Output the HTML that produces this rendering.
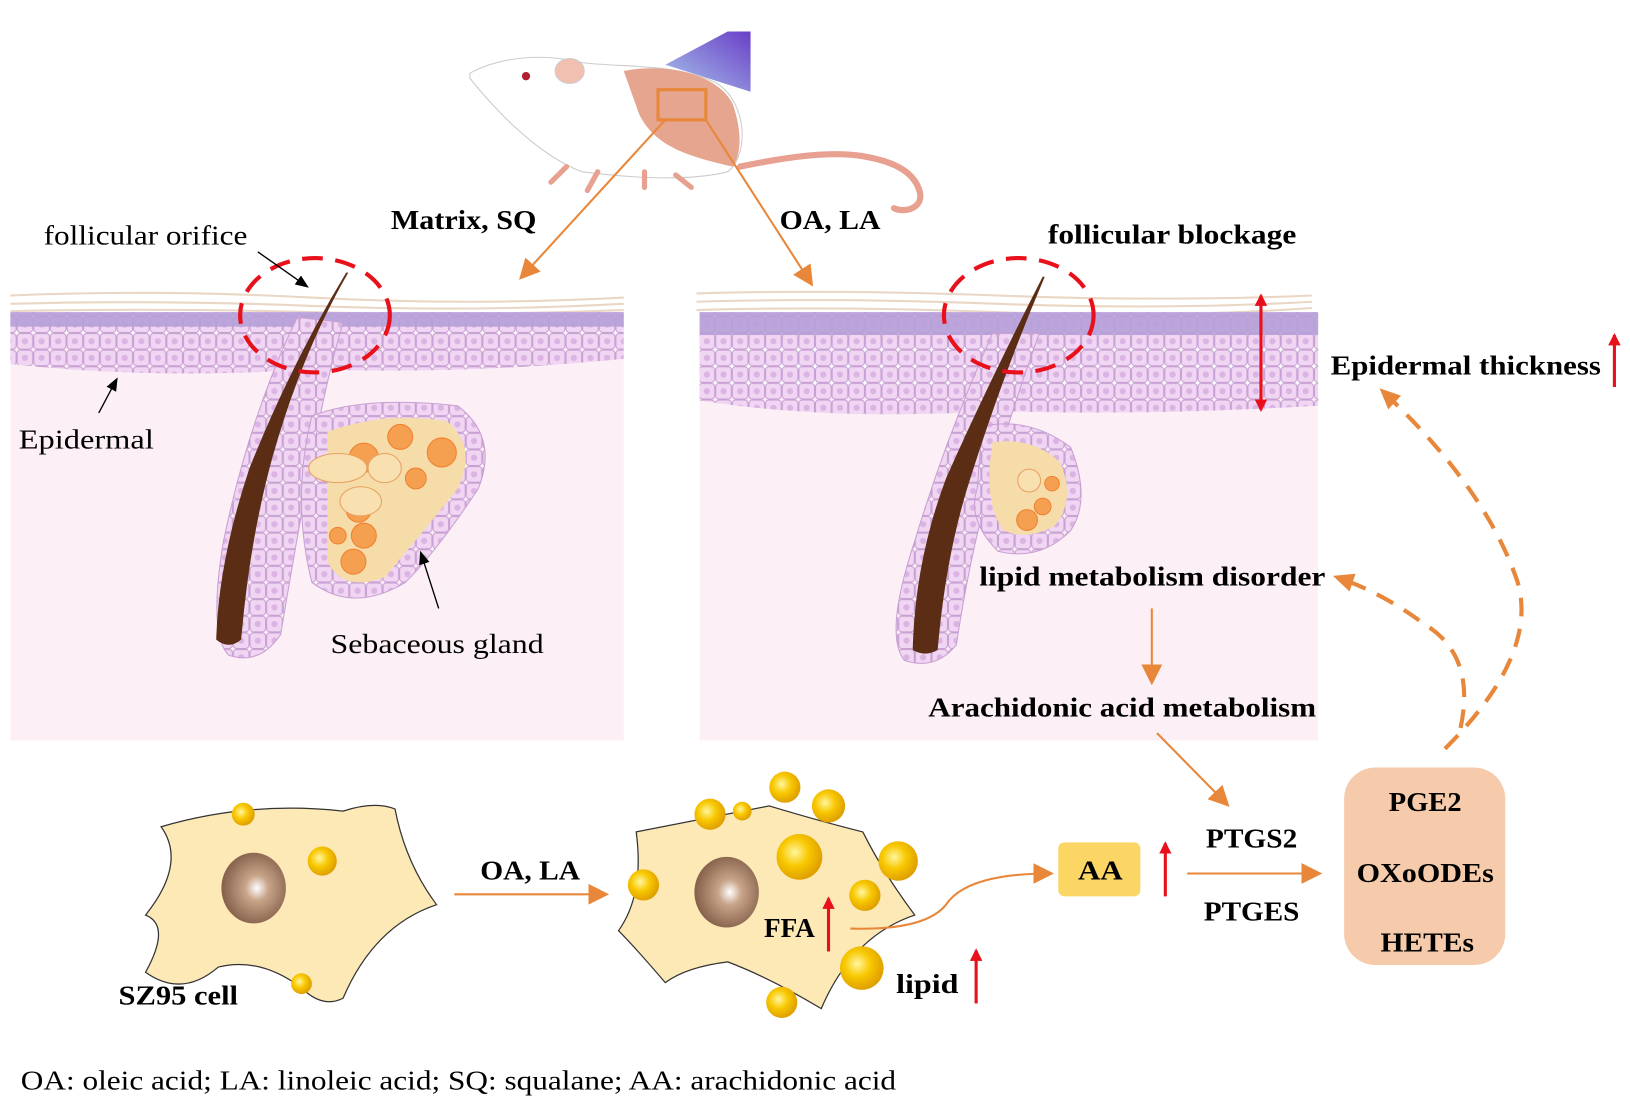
<!DOCTYPE html>
<html><head><meta charset="utf-8"><style>
html,body{margin:0;padding:0;background:#fff;}
svg{display:block;}
text{font-family:"Liberation Serif",serif;}
.b{font-weight:bold;}
</style></head><body>
<svg width="1630" height="1116" viewBox="0 0 1568 1073" xmlns="http://www.w3.org/2000/svg">
<defs>
<linearGradient id="bl" x1="0" y1="1" x2="1" y2="0"><stop offset="0" stop-color="#a9c6ea"/><stop offset="1" stop-color="#6a3fc8"/></linearGradient>
<radialGradient id="nuc" cx="0.55" cy="0.5" r="0.6"><stop offset="0" stop-color="#fff"/><stop offset="0.3" stop-color="#c8a48a"/><stop offset="1" stop-color="#7a5540"/></radialGradient>
<radialGradient id="dr" cx="0.4" cy="0.4" r="0.6"><stop offset="0" stop-color="#fff6a0"/><stop offset="0.5" stop-color="#f8c800"/><stop offset="1" stop-color="#e0a000"/></radialGradient>
<pattern id="cells" width="16" height="16" patternUnits="userSpaceOnUse"><rect x="0.5" y="0.5" width="15" height="15" rx="3" fill="#f0d6f2" stroke="#c8a0d4"/><circle cx="8" cy="8" r="3" fill="#dcb4e4"/></pattern>
<marker id="oa" markerWidth="10" markerHeight="10" refX="8" refY="5" orient="auto"><path d="M0,0 L10,5 L0,10 z" fill="#e8873a"/></marker>
<marker id="ob" markerUnits="userSpaceOnUse" markerWidth="22" markerHeight="22" refX="16" refY="11" orient="auto"><path d="M0,2 L20,11 L0,20 z" fill="#e8873a"/></marker>
<marker id="ka" markerWidth="10" markerHeight="10" refX="8" refY="5" orient="auto"><path d="M0,1 L10,5 L0,9 z" fill="#000"/></marker>
<marker id="ra" markerUnits="userSpaceOnUse" markerWidth="14" markerHeight="14" refX="10" refY="7" orient="auto"><path d="M0,1 L12,7 L0,13 z" fill="#e8101a"/></marker>
<marker id="rs" markerUnits="userSpaceOnUse" markerWidth="14" markerHeight="14" refX="2" refY="7" orient="auto"><path d="M12,1 L0,7 L12,13 z" fill="#e8101a"/></marker>
</defs>

<!-- mouse -->
<polygon points="640,62 700,30 722,30 722,88" fill="url(#bl)"/>
<path d="M712,160 C760,150 800,145 830,150 C860,155 880,165 885,185 C888,200 870,205 860,200" fill="none" stroke="#e8a090" stroke-width="6" stroke-linecap="round"/>
<path d="M452,70 C480,55 520,50 560,60 C600,65 650,60 690,80 C720,100 720,150 700,165 C660,175 600,170 560,165 C520,150 480,110 452,75 Z" fill="#fff" stroke="#ccc"/>
<path d="M600,68 C640,60 690,70 705,100 C715,130 712,150 705,160 C660,150 630,140 615,110 Z" fill="#e6a58e"/>
<ellipse cx="548" cy="68" rx="14" ry="12" fill="#f2c0b0" stroke="#ccc"/>
<circle cx="506" cy="73" r="4" fill="#b02030"/>
<path d="M545,160 l-15,15 M575,165 l-10,18 M620,165 l0,15 M650,168 l15,12" stroke="#e8a090" stroke-width="5" stroke-linecap="round"/>
<rect x="633" y="86" width="46" height="29" fill="none" stroke="#e8873a" stroke-width="3"/>
<line x1="640" y1="115" x2="502" y2="266" stroke="#e8873a" stroke-width="2" marker-end="url(#oa)"/>
<line x1="679" y1="115" x2="780" y2="272" stroke="#e8873a" stroke-width="2" marker-end="url(#oa)"/>

<!-- left panel -->
<rect x="10" y="320" width="590" height="392" fill="#fcf0f6"/>
<g stroke="#e9d6c4" stroke-width="2" fill="none">
<path d="M10,284 Q150,278 300,286 T600,286"/><path d="M10,292 Q150,288 300,294 T600,292"/><path d="M10,299 Q150,296 300,300 T600,298"/>
</g>
<path d="M10,300 L600,300 L600,345 Q450,360 300,355 Q150,365 10,350 Z" fill="url(#cells)"/>
<rect x="10" y="300" width="590" height="14" fill="#b6a0d8" opacity="0.9"/>
<path d="M286,305 Q240,400 215,520 Q200,610 220,630 Q250,640 270,610 Q285,520 300,440 Q315,360 330,310 Z" fill="url(#cells)" stroke="#c8a0d4"/>
<path d="M300,400 Q350,380 440,390 Q480,420 460,470 Q420,530 390,560 Q340,590 300,560 Q280,480 300,400 Z" fill="url(#cells)" stroke="#c8a0d4"/>
<path d="M315,415 Q370,395 430,405 Q460,430 440,470 Q400,520 370,555 Q330,570 315,540 Z" fill="#f6dca8"/>
<g fill="#f5a050" stroke="#f08030"><circle cx="350" cy="440" r="14"/><circle cx="385" cy="420" r="12"/><circle cx="425" cy="435" r="14"/><circle cx="400" cy="460" r="10"/><circle cx="345" cy="490" r="12"/><circle cx="350" cy="515" r="12"/><circle cx="325" cy="515" r="8"/><circle cx="340" cy="540" r="12"/></g>
<g fill="#f8e0b0" stroke="#e8a060"><ellipse cx="325" cy="450" rx="28" ry="14"/><ellipse cx="370" cy="450" rx="16" ry="14"/><ellipse cx="347" cy="482" rx="20" ry="14"/></g>
<path d="M333,262 Q280,350 240,450 Q210,540 208,615 Q220,625 232,615 Q240,520 262,440 Q290,340 335,262 Z" fill="#5a2d14"/>
<ellipse cx="303" cy="303" rx="72" ry="55" fill="none" stroke="#e8101a" stroke-width="4" stroke-dasharray="20,12"/>
<line x1="248" y1="242" x2="295" y2="275" stroke="#000" stroke-width="1.3" marker-end="url(#ka)"/>
<line x1="95" y1="397" x2="112" y2="365" stroke="#000" stroke-width="1.3" marker-end="url(#ka)"/>
<line x1="422" y1="585" x2="405" y2="532" stroke="#000" stroke-width="1.3" marker-end="url(#ka)"/>
<text x="42" y="235" font-size="26" textLength="196" lengthAdjust="spacingAndGlyphs">follicular orifice</text>
<text x="18" y="431" font-size="26" textLength="130" lengthAdjust="spacingAndGlyphs">Epidermal</text>
<text x="318" y="628" font-size="26" textLength="205" lengthAdjust="spacingAndGlyphs">Sebaceous gland</text>
<text x="376" y="220" font-size="26" class="b" textLength="140" lengthAdjust="spacingAndGlyphs">Matrix, SQ</text>
<text x="750" y="220" font-size="26" class="b" textLength="97" lengthAdjust="spacingAndGlyphs">OA, LA</text>

<!-- right panel -->
<rect x="673" y="380" width="595" height="332" fill="#fcf0f6"/>
<g stroke="#e9d6c4" stroke-width="2" fill="none">
<path d="M670,282 Q800,278 960,284 T1262,284"/><path d="M670,290 Q800,286 960,292 T1262,290"/><path d="M670,298 Q800,294 960,300 T1262,296"/>
</g>
<path d="M673,300 L1268,300 L1268,390 Q1100,400 960,395 Q800,405 673,385 Z" fill="url(#cells)"/>
<rect x="673" y="300" width="595" height="22" fill="#b6a0d8" opacity="0.9"/>
<path d="M955,320 Q910,420 880,520 Q850,610 870,635 Q900,645 920,620 Q935,520 960,440 Q985,360 1000,320 Z" fill="url(#cells)" stroke="#c8a0d4"/>
<path d="M945,410 Q990,400 1030,430 Q1050,480 1030,510 Q1000,540 960,530 Q930,500 940,470 Z" fill="url(#cells)" stroke="#c8a0d4"/>
<path d="M955,425 Q995,420 1020,445 Q1035,480 1015,505 Q990,520 965,510 Q945,480 955,425 Z" fill="#f6dca8"/>
<g fill="#f5a050" stroke="#f08030"><circle cx="1012" cy="465" r="7"/><circle cx="1003" cy="487" r="8"/><circle cx="988" cy="500" r="10"/></g>
<circle cx="990" cy="462" r="11" fill="#f8e0b0" stroke="#e8a060"/>
<path d="M1003,266 Q950,370 910,460 Q880,540 878,625 Q890,632 902,625 Q910,530 935,455 Q965,360 1005,266 Z" fill="#5a2d14"/>
<ellipse cx="980" cy="303" rx="72" ry="55" fill="none" stroke="#e8101a" stroke-width="4" stroke-dasharray="20,12"/>
<line x1="1213" y1="284" x2="1213" y2="394" stroke="#e8101a" stroke-width="3" marker-start="url(#rs)" marker-end="url(#ra)"/>
<text x="1280" y="360" font-size="26" class="b" textLength="260" lengthAdjust="spacingAndGlyphs">Epidermal thickness</text>
<line x1="1553" y1="372" x2="1553" y2="322" stroke="#e8101a" stroke-width="3" marker-end="url(#ra)"/>
<text x="1008" y="234" font-size="26" class="b" textLength="239" lengthAdjust="spacingAndGlyphs">follicular blockage</text>
<text x="942" y="563" font-size="26" class="b" textLength="333" lengthAdjust="spacingAndGlyphs">lipid metabolism disorder</text>
<line x1="1108" y1="585" x2="1108" y2="655" stroke="#e8873a" stroke-width="2" marker-end="url(#oa)"/>
<text x="893" y="689" font-size="26" class="b" textLength="373" lengthAdjust="spacingAndGlyphs">Arachidonic acid metabolism</text>
<line x1="1113" y1="705" x2="1180" y2="773" stroke="#e8873a" stroke-width="2" marker-end="url(#oa)"/>

<!-- dashed curves -->
<path d="M1390,720 Q1480,630 1460,560 Q1430,470 1330,376" fill="none" stroke="#e8873a" stroke-width="4" stroke-dasharray="18,12" marker-end="url(#ob)"/>
<path d="M1405,700 Q1420,630 1370,600 Q1330,570 1286,555" fill="none" stroke="#e8873a" stroke-width="4" stroke-dasharray="18,12" marker-end="url(#ob)"/>

<!-- cells -->
<path d="M155,795 Q240,770 330,780 Q360,770 380,778 Q390,830 420,870 Q360,890 330,960 Q310,970 290,950 Q250,920 210,930 Q175,960 140,935 Q165,890 140,880 Q180,830 155,795 Z" fill="#fde9b6" stroke="#333" stroke-width="1.2"/>
<ellipse cx="244" cy="854" rx="31" ry="34" fill="url(#nuc)"/>
<circle cx="234" cy="783" r="11" fill="url(#dr)"/><circle cx="310" cy="828" r="14" fill="url(#dr)"/><circle cx="290" cy="946" r="10" fill="url(#dr)"/>
<text x="114" y="966" font-size="26" class="b" textLength="115" lengthAdjust="spacingAndGlyphs">SZ95 cell</text>
<line x1="437" y1="860" x2="582" y2="860" stroke="#e8873a" stroke-width="2" marker-end="url(#oa)"/>
<text x="462" y="846" font-size="26" class="b" textLength="96" lengthAdjust="spacingAndGlyphs">OA, LA</text>
<path d="M612,800 Q690,785 740,775 Q790,790 830,800 Q850,840 880,880 Q820,900 790,970 Q740,940 700,925 Q660,930 640,945 Q610,910 595,895 Q620,860 612,800 Z" fill="#fde9b6" stroke="#333" stroke-width="1.2"/>
<ellipse cx="699" cy="858" rx="31" ry="34" fill="url(#nuc)"/>
<g fill="url(#dr)"><circle cx="755" cy="757" r="15"/><circle cx="683" cy="783" r="15"/><circle cx="714" cy="780" r="9"/><circle cx="797" cy="775" r="16"/><circle cx="769" cy="824" r="22"/><circle cx="864" cy="828" r="19"/><circle cx="619" cy="851" r="15"/><circle cx="832" cy="861" r="15"/><circle cx="829" cy="931" r="21"/><circle cx="752" cy="964" r="15"/></g>
<text x="735" y="901" font-size="26" class="b" textLength="49" lengthAdjust="spacingAndGlyphs">FFA</text>
<line x1="797" y1="915" x2="797" y2="864" stroke="#e8101a" stroke-width="3" marker-end="url(#ra)"/>
<text x="862" y="955" font-size="26" class="b" textLength="60" lengthAdjust="spacingAndGlyphs">lipid</text>
<line x1="939" y1="965" x2="939" y2="914" stroke="#e8101a" stroke-width="3" marker-end="url(#ra)"/>
<path d="M818,893 Q890,895 910,870 Q930,840 1010,840" fill="none" stroke="#e8873a" stroke-width="2" marker-end="url(#oa)"/>
<rect x="1018" y="810" width="79" height="52" rx="6" fill="#fcd665"/>
<text x="1037" y="846" font-size="26" class="b" textLength="43" lengthAdjust="spacingAndGlyphs">AA</text>
<line x1="1121" y1="862" x2="1121" y2="811" stroke="#e8101a" stroke-width="3" marker-end="url(#ra)"/>
<line x1="1142" y1="840" x2="1268" y2="840" stroke="#e8873a" stroke-width="2" marker-end="url(#oa)"/>
<text x="1160" y="815" font-size="26" class="b" textLength="88" lengthAdjust="spacingAndGlyphs">PTGS2</text>
<text x="1158" y="885" font-size="26" class="b" textLength="92" lengthAdjust="spacingAndGlyphs">PTGES</text>
<rect x="1293" y="738" width="155" height="190" rx="30" fill="#f6cbab"/>
<text x="1336" y="780" font-size="26" class="b" textLength="70" lengthAdjust="spacingAndGlyphs">PGE2</text>
<text x="1305" y="848" font-size="26" class="b" textLength="132" lengthAdjust="spacingAndGlyphs">OXoODEs</text>
<text x="1328" y="915" font-size="26" class="b" textLength="90" lengthAdjust="spacingAndGlyphs">HETEs</text>

<text x="20" y="1048" font-size="26" textLength="842" lengthAdjust="spacingAndGlyphs">OA: oleic acid; LA: linoleic acid; SQ: squalane; AA: arachidonic acid</text>
</svg>
</body></html>
